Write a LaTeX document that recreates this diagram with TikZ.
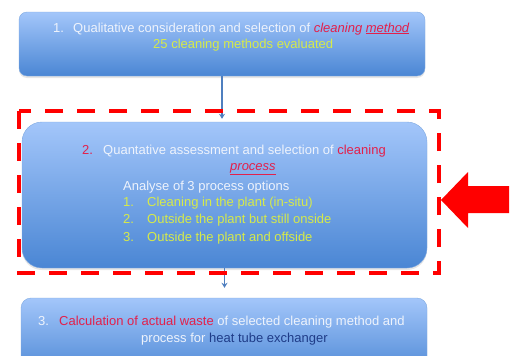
\documentclass[tikz,border=0pt]{standalone}
\usepackage{fontspec}
\setmainfont{Liberation Sans}
\usepackage{xcolor}
\usepackage{tikz}
\usetikzlibrary{arrows.meta}
\usetikzlibrary{shadows}
\definecolor{boxtop}{HTML}{A3C6FA}
\definecolor{boxbot}{HTML}{4A86D4}
\definecolor{txtred}{HTML}{E3204B}
\definecolor{txtyel}{HTML}{D6EA4A}
\definecolor{txtwht}{HTML}{EEF3FC}
\definecolor{txtnavy}{HTML}{1F3C88}
\definecolor{linkblue}{HTML}{4F7FBF}

\begin{document}
\begin{tikzpicture}[x=1pt,y=-1pt,
    box/.style={draw=boxbot!70, line width=0.4pt, top color=boxtop, bottom color=boxbot,
      drop shadow={opacity=0.2,shadow xshift=0pt,shadow yshift=-2pt}, inner sep=0pt},
    txt/.style={anchor=base west, inner sep=0pt, text=txtwht, font=\fontsize{13}{15}\selectfont},
    link/.style={draw=linkblue, line width=1.6pt, -{Stealth[length=5pt,width=6pt]}}]
    \useasboundingbox (0,0) rectangle (514,356);
    \node[box, rounded corners=8pt, minimum width=406pt, minimum height=64pt] (a) at (222,44) {};
    \node[box, rounded corners=20pt, minimum width=405pt, minimum height=146pt] (b) at (224.5,195) {};
    \node[box, rounded corners=10pt, minimum width=406pt, minimum height=80pt] (c) at (224,338) {};
    \draw[link, shorten >=3pt] (a) -- (a |- b.north);
    \draw[link, shorten >=10pt] (b) -- (b |- c.north);
    \draw[red, line width=4pt, dash pattern=on 18pt off 14pt] (19,111) rectangle (439,273);
    \fill[red] (441,200) -- (468,172) -- (468,186) -- (509,186) -- (509,213) -- (468,213) -- (468,228) -- cycle;
    % step 1
    \node[txt] (a1) at (53,32) {1.};
    \node[txt] (a2) at (73,32) {Qualitative consideration and selection of \textcolor{txtred}{\textit{cleaning \underline{method}}}};
    \node[txt, text=txtyel] (a3) at (153,48.5) {25 cleaning methods evaluated};
    % step 2
    \node[txt, text=txtred] (b1) at (82,154) {2.};
    \node[txt] (b2) at (103,154) {Quantative assessment and selection of \textcolor{txtred}{cleaning}};
    \node[txt, text=txtred] (b3) at (230,170) {\textit{\underline{process}}};
    \node[txt] (b4) at (123,190) {Analyse of 3 process options};
    \foreach \t [count=\i] in {Cleaning in the plant (in-situ), Outside the plant but still onside, Outside the plant and offside} {
      \node[txt, text=txtyel] (n\i) at (123,{188.5+17.5*\i}) {\i.};
      \node[txt, text=txtyel] (o\i) at (147,{188.5+17.5*\i}) {\t};
    }
    % step 3
    \node[txt] (c1) at (38,325) {3.};
    \node[txt] (c2) at (59,325) {\textcolor{txtred}{Calculation of actual waste} of selected cleaning method and};
    \node[txt] (c3) at (141,342) {process for \textcolor{txtnavy}{heat tube exchanger}};
  \end{tikzpicture}
\end{document}
